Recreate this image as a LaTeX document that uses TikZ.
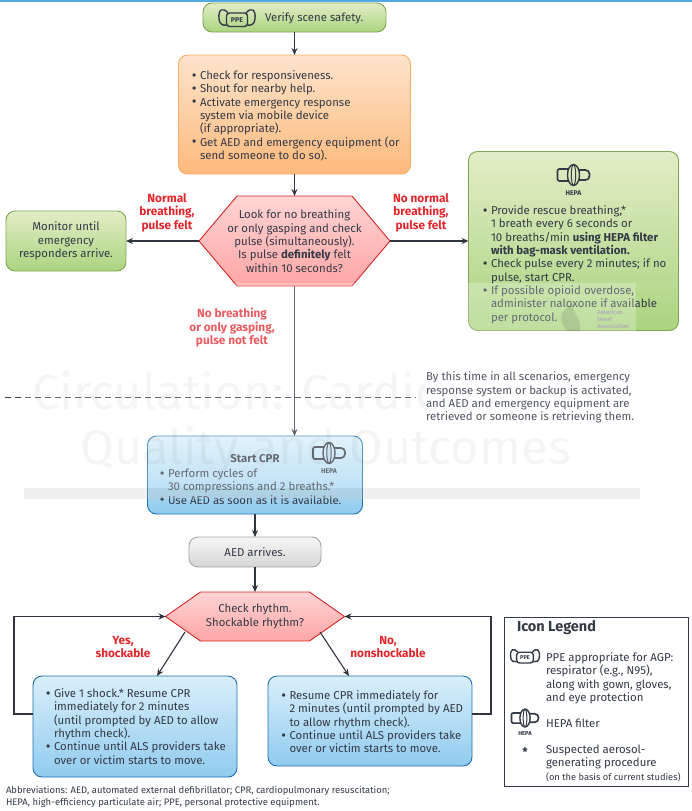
\documentclass[tikz,border=0pt]{standalone}
\usepackage{fontspec}
\setmainfont{Fira Sans}
\usetikzlibrary{arrows.meta, positioning, calc, backgrounds}

\definecolor{ink}{HTML}{343A46}
\definecolor{alertred}{HTML}{E3262B}
\definecolor{greenline}{HTML}{7FA652}
\definecolor{greentop}{HTML}{E2EDC6}
\definecolor{greenlow}{HTML}{ABD480}
\definecolor{blueline}{HTML}{1F6FB2}
\definecolor{bluetop}{HTML}{D9EFFA}
\definecolor{bluelow}{HTML}{90CBEE}
\definecolor{orangeline}{HTML}{F6AE68}
\definecolor{orangetop}{HTML}{FDE4CC}
\definecolor{orangelow}{HTML}{FDB97C}
\newcommand{\blt}{\leavevmode\llap{\raisebox{-.7pt}{\fontsize{14.5}{10}\selectfont\textbullet}\hspace{3.5pt}}}
\newcommand{\hexback}[2]{%
    \begin{scope}[on background layer]
    \draw [hexfill] (#1.west) -- ($(#1.north west)+(#2,0)$) -- ($(#1.north east)+(-#2,0)$) -- (#1.east)
        -- ($(#1.south east)+(-#2,0)$) -- ($(#1.south west)+(#2,0)$) -- cycle;
    \end{scope}}

\tikzset{
    txt/.style={font=\fontsize{11.4}{13.35}\selectfont, text=ink, inner sep=0, outer sep=0, align=left},
    ctxt/.style={txt, align=center},
    flag/.style={font=\fontsize{11.8}{13.5}\selectfont\bfseries, text=alertred, inner sep=0, align=center},
    box/.style={txt, align=center, rectangle, rounded corners=9, draw, line width=.9},
    greenbox/.style={box, draw=greenline, top color=greentop, middle color=greentop!85!greenlow, bottom color=greenlow},
    orangebox/.style={box, draw=orangeline, top color=orangetop, middle color=orangetop!88!orangelow, bottom color=orangelow},
    bluebox/.style={box, draw=blueline, top color=bluetop, middle color=bluetop!85!bluelow, bottom color=bluelow},
    graybox/.style={box, draw=black!35, top color=white!96!black, bottom color=black!16},
    hexnode/.style={ctxt, rectangle},
    hexfill/.style={draw=red!80!black!85!white, line width=.9, top color=red!17!white, bottom color=red!35!white},
    arr/.style={-{Stealth[length=7pt,width=6pt]}, line width=1.1, draw=ink!90!black},
    ppeicon/.pic={
        \draw [line width=1.4, rounded corners=3, draw=ink] (-10.5,-7.5) rectangle (10.5,6);
        \node (-t) [inner sep=0, text=ink, font=\fontsize{7}{7}\selectfont\bfseries] at (0,-1) {PPE};
        \draw [line width=1.4, draw=ink] (-9,6) .. controls (-14,12) and (-19,10) .. (-18,0) .. controls (-17.5,-5) and (-14,-7) .. (-10.5,-6);
        \draw [line width=1.4, draw=ink] (9,6) .. controls (14,12) and (19,10) .. (18,0) .. controls (17.5,-5) and (14,-7) .. (10.5,-6);
    },
    hepaicon/.pic={
        \draw [line width=1.7, rounded corners=2, draw=ink] (-5,6) -- (-16,6) -- (-16,-6) -- (-5,-6);
        \draw [line width=1.7, rounded corners=4, draw=ink] (5,5) -- (16,5) -- (16,-5) -- (5,-5);
        \draw [line width=1.4, draw=ink] (0,0) ellipse (6 and 10.5);
        \draw [line width=1, draw=ink] (0,0) ellipse (2.2 and 10.5);
        \node (-t) [inner sep=0, text=ink, font=\fontsize{6.8}{7}\selectfont\bfseries] at (0,-18.5) {HEPA};
    }
}

\begin{document}
\begin{tikzpicture}[x=1pt, y=1pt, node distance=23]
    \useasboundingbox (0,0) rectangle (692,-811);
    \fill [cyan!75!blue!70!white] (0,0) rectangle (692,-1.5);

    % upper part
    \node (verify) [greenbox, minimum width=183, minimum height=29] at (294.5,-17.5) {};
    \pic at (237,-19) {ppeicon};
    \node (verifytxt) [txt, anchor=west] at (265,-18) {Verify scene safety.};

    \node (actions) [orangebox, minimum width=232, minimum height=119, below=of verify] {};
    \node (actionstxt) [txt, anchor=north west] at (200,-70.5) {\blt Check for responsiveness.\\
        \blt Shout for nearby help.\\
        \blt Activate emergency response\\
        system via mobile device\\
        (if appropriate).\\
        \blt Get AED and emergency equipment (or\\
        send someone to do so).};

    \node (look) [hexnode, minimum width=191, minimum height=90, below=22 of actions] {Look for no breathing\\
        or only gasping and check\\
        pulse (simultaneously).\\
        Is pulse \textbf{definitely} felt\\
        within 10 seconds?};
    \hexback{look}{38}

    \node (monitor) [greenbox, minimum width=120, minimum height=60, left=73 of look] {Monitor until\\emergency\\responders arrive.};
    \node (rescue) [greenbox, minimum width=210, minimum height=179, right=78.5 of look] {};
    \pic at (573.5,-175) {hepaicon};
    \node (rescuetxt) [txt, anchor=north west] at (491,-205.5) {\blt Provide rescue breathing,*\\
        1 breath every 6 seconds or\\
        10 breaths/min \textbf{using HEPA filter}\\
        \textbf{with bag-mask ventilation.}\\
        \blt Check pulse every 2 minutes; if no\\
        pulse, start CPR.\\
        \blt If possible opioid overdose,\\
        administer naloxone if available\\
        per protocol.};

    \node (flagleft) [flag] at (167,-212.5) {Normal\\breathing,\\pulse felt};
    \node (flagright) [flag] at (421,-212.5) {No normal\\breathing,\\pulse felt};
    \node (flagdown) [flag] at (232,-328) {No breathing\\or only gasping,\\pulse not felt};

    \draw [arr, line width=1.5] (look.west) -- (monitor.east);
    \draw [arr, line width=1.5] (look.east) -- (rescue.west);
    \draw [arr] (verify) -- (actions);
    \draw [arr] (actions) -- (look);

    % dashed divider
    \coordinate (dashl) at (5,-397);
    \coordinate (dashr) at (416,-397);
    \draw [dashed, dash pattern=on 6pt off 4pt, line width=.9, draw=ink] (dashl) -- (dashr);

    % cpr part
    \node (cpr) [bluebox, minimum width=215, minimum height=78] at (255,-475) {};
    \pic at (329,-453) {hepaicon};
    \node (cprhead) [txt, font=\fontsize{11.4}{13.35}\selectfont\bfseries] at (255,-458.5) {Start CPR};
    \node (cprtxt) [txt, anchor=north west] at (168,-469) {\blt Perform cycles of\\
        30 compressions and 2 breaths.*\\
        \blt Use AED as soon as it is available.};
    \draw [arr] (look.south) -- (look.south |- cpr.north);

    \node (aed) [graybox, minimum width=132, minimum height=30, below=of cpr] {AED arrives.};
    \node (rhythm) [hexnode, minimum width=179, minimum height=49, below=25 of aed] {Check rhythm.\\Shockable rhythm?};
    \hexback{rhythm}{35}
    \draw [arr] (cpr) -- (aed);
    \draw [arr] (aed) -- (rhythm);

    \node (shock) [bluebox, minimum width=204, minimum height=101] at (135,-726.5) {};
    \node (shocktxt) [txt, anchor=north west] at (54,-688.5) {\blt Give 1 shock.* Resume CPR\\
        immediately for 2 minutes\\
        (until prompted by AED to allow\\
        rhythm check).\\
        \blt Continue until ALS providers take\\
        over or victim starts to move.};
    \node (noshock) [bluebox, minimum width=204, minimum height=90] at (370,-721) {};
    \node (noshocktxt) [txt, anchor=north west] at (289.5,-690.5) {\blt Resume CPR immediately for\\
        2 minutes (until prompted by AED\\
        to allow rhythm check).\\
        \blt Continue until ALS providers take\\
        over or victim starts to move.};

    \node (flagyes) [flag] at (123,-647) {Yes,\\shockable};
    \node (flagno) [flag] at (388,-647) {No,\\nonshockable};

    \draw [arr] ($(rhythm.south)+(-70,9)$) -- ($(shock.north)+(22,0)$);
    \draw [arr] ($(rhythm.south)+(65,9)$) -- ($(noshock.north)+(-21,0)$);
    \coordinate (loopl) at (14,-714);
    \coordinate (loopr) at (491,-714);
    \draw [arr] (shock.west |- loopl) -- (loopl) |- (rhythm.west);
    \draw [arr] (noshock.east |- loopr) -- (loopr) |- (rhythm.east);

    \node (abbrev) [txt, anchor=north west, font=\fontsize{9.45}{11.2}\selectfont] at (6,-786.5) {Abbreviations: AED, automated external defibrillator; CPR, cardiopulmonary resuscitation;\\
        HEPA, high-efficiency particulate air; PPE, personal protective equipment.};

    % legend
    \node (legend) [rectangle, draw=ink, line width=1, fill=white, minimum width=184, minimum height=169] at (596,-701.5) {};
    \node (legendhead) [txt, anchor=west, font=\fontsize{14.5}{16}\selectfont\bfseries] at (517,-628) {Icon Legend};
    \pic [scale=.8, transform shape] at (525,-657) {ppeicon};
    \node (legendppe) [txt, anchor=north west] at (546,-652.5) {PPE appropriate for AGP:\\
        respirator (e.g., N95),\\
        along with gown, gloves,\\
        and eye protection};
    \pic [scale=.85, transform shape] at (525,-718) {hepaicon};
    \node (legendhepa) [txt, anchor=west] at (546,-723) {HEPA filter};
    \node (legendstar) [txt, font=\fontsize{12}{12}\selectfont\bfseries] at (525,-752) {*};
    \node (legendaero) [txt, anchor=north west] at (546,-745) {Suspected aerosol-\\
        generating procedure\\
        {\fontsize{9.3}{11}\selectfont (on the basis of current studies)}};

    % faint journal mark laid over the middle
    \fill [white, opacity=.25] (24,-283) rectangle (636,-499);
    \node (markone) [inner sep=0, anchor=west, opacity=.04, font=\fontsize{49}{49}\selectfont] at (32,-391) {Circulation: Cardiovascular};
    \node (marktwo) [inner sep=0, anchor=west, opacity=.04, font=\fontsize{49}{49}\selectfont] at (80,-451) {Quality and Outcomes};
    \fill [black, opacity=.06] (24,-488) rectangle (640,-499);
    \fill [black, opacity=.10] (567,-331) .. controls (556,-318) and (562,-308) .. (574,-304) .. controls (570,-312) and (582,-316) .. (580,-331) -- cycle;
    \node (markaha) [inner sep=0, anchor=north west, align=left, text=black!30, font=\fontsize{6}{7}\selectfont\bfseries] at (597,-309) {American\\Heart\\Association};

    \node (scenarios) [txt, anchor=north west, fill=white, text=ink!85!white] at (426,-372) {By this time in all scenarios, emergency\\
        response system or backup is activated,\\
        and AED and emergency equipment are\\
        retrieved or someone is retrieving them.};
\end{tikzpicture}
\end{document}
